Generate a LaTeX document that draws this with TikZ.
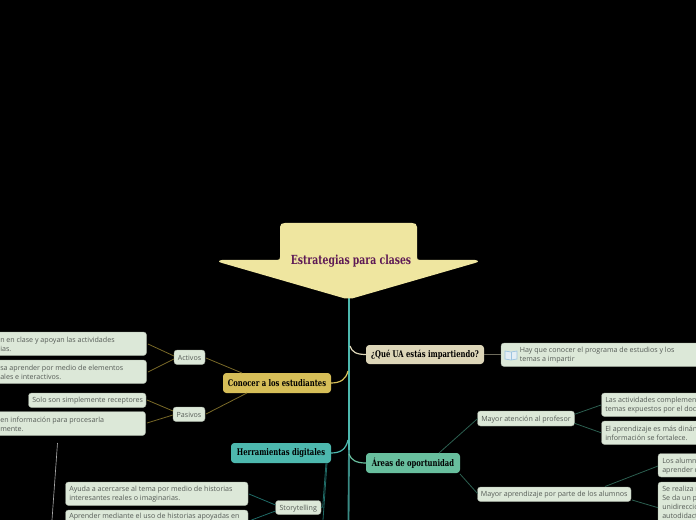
\documentclass[tikz,border=0pt]{standalone}
\usepackage{fontspec}
\setmainfont{Open Sans}
\newfontfamily\titlefont{DejaVu Serif}[FakeStretch=0.74]
\definecolor{paper}{HTML}{DCE8D8}
\definecolor{ink}{HTML}{555B56}
\definecolor{topfill}{HTML}{EFE6A0}
\definecolor{topink}{HTML}{5E1A55}
\definecolor{gold}{HTML}{D6BE58}
\definecolor{teal}{HTML}{4DB8AE}
\definecolor{sand}{HTML}{DDD6B8}
\definecolor{jade}{HTML}{68BF9E}
\definecolor{goldline}{HTML}{7A6A28}
\definecolor{tealline}{HTML}{1F6A66}
\definecolor{jadeline}{HTML}{2C5F50}
\definecolor{bookblue}{HTML}{9CC4E0}
\definecolor{bookpage}{HTML}{E4EEF4}
\tikzset{
 x=0.75pt,y=-0.75pt,
 main/.style={inner sep=0pt,anchor=center,font=\titlefont\bfseries\fontsize{6.9}{9}\selectfont,text=black,align=center},
 leaf/.style={fill=paper,draw=paper!70!black,line width=0.25pt,rounded corners=2.2pt,inner sep=0pt},
 leaftext/.style={anchor=west,inner sep=0pt,yshift=-0.5pt,text=ink,font=\fontsize{5.33}{6.8}\selectfont,align=left},
 goldlink/.style={draw=goldline,line width=0.6pt},
 teallink/.style={draw=tealline,line width=0.6pt},
 jadelink/.style={draw=jadeline,line width=0.6pt},
 branch/.style={line width=0.9pt},
}
\newcommand{\boxat}[6]{% name, x1,y1,x2,y2, style
 \path[#6] (#2,#3) rectangle (#4,#5);
 \coordinate (#1) at ({(#2+#4)/2},{(#3+#5)/2});
 \coordinate (#1-w) at (#2,{(#3+#5)/2});
 \coordinate (#1-e) at (#4,{(#3+#5)/2});
}
\begin{document}
\begin{tikzpicture}
\useasboundingbox (0,0) rectangle (696,520);
\clip (0,0) rectangle (696,520);
\fill[black] (0,0) rectangle (696,520);

% trunk
\coordinate (apex) at (349,298);
\coordinate (mid) at (349,450);
\coordinate (bottom) at (348.5,520);
\draw[teal,line width=2.2pt] (apex) -- (mid);
\draw[teal!75!black,line width=1.4pt] (mid) -- (bottom);

% central shape
\fill[topfill] (277,260) .. controls (279.5,260) and (280,259) .. (280,257) -- (280,227)
 .. controls (280,224) and (282,223) .. (285,223) -- (412,223)
 .. controls (415,223) and (417,224) .. (417,227) -- (417,257)
 .. controls (417,259) and (417.5,260) .. (420,260) -- (475,260)
 .. controls (479,260.5) and (479,262) .. (475,263) -- (352,298.5)
 .. controls (349,299.3) and (348,299.3) .. (345,298.5) -- (222,263)
 .. controls (218,262) and (218,260.5) .. (222,260) -- cycle;
\node[inner sep=0pt,text=topink,font=\titlefont\bfseries\fontsize{9.4}{11}\selectfont] (title) at (351,261.5) {Estrategias para clases};

% branches
\coordinate (t1) at (348,371);
\coordinate (t2) at (348,440);
\coordinate (t3) at (350,346);
\coordinate (t4) at (349,454);
\draw[gold,branch] (t1) .. controls (346,379) and (341,383) .. (331,383);
\draw[teal,branch] (t2) .. controls (346,449) and (341,453) .. (331,453);
\draw[sand,branch] (t3) .. controls (352,352) and (356,354.5) .. (366,354.5);
\draw[jade,branch] (t4) .. controls (351,460) and (356,463) .. (366,463);

% mains
\boxat{con}{223}{373}{331}{393}{fill=gold,rounded corners=2.5pt}
\node[main] (contxt) at (con) {Conocer a los estudiantes};
\boxat{her}{231}{443}{331}{463}{fill=teal,rounded corners=2.5pt}
\node[main] (hertxt) at (her) {Herramientas digitales};
\boxat{que}{366}{345}{484}{364}{fill=sand,rounded corners=2.5pt}
\node[main] (quetxt) at (que) {¿Qué UA estás impartiendo?};
\boxat{are}{366}{453}{460}{473}{fill=jade,rounded corners=2.5pt}
\node[main] (aretxt) at (are) {Áreas de oportunidad};

% small nodes
\boxat{act}{174}{350}{205}{364.5}{leaf}
\node[leaftext,anchor=center] at (act) {Activos};
\boxat{pas}{173}{407}{205}{421.5}{leaf}
\node[leaftext,anchor=center] at (pas) {Pasivos};
\boxat{sto}{275.5}{500.5}{321}{514.5}{leaf}
\node[leaftext,anchor=center] at (sto) {Storytelling};
\boxat{mat}{477.5}{411}{574.5}{426}{leaf}
\node[leaftext,anchor=center] at (mat) {Mayor atención al profesor};
\boxat{map}{477.5}{487}{631}{501.5}{leaf}
\node[leaftext,anchor=center] at (map) {Mayor aprendizaje por parte de los alumnos};

% leaves
\boxat{a1}{-20}{332}{146.5}{355.5}{leaf}
\node[leaftext] at (0,343.8) {n en clase y apoyan las actividades\\ias.};
\boxat{a2}{-20}{360}{146.5}{383.5}{leaf}
\node[leaftext] at (0,371.8) {sa aprender por medio de elementos\\ales e interactivos.};
\boxat{p1}{28.5}{393}{146}{407.5}{leaf}
\node[leaftext] at (32,400.3) {Solo son simplemente receptores};
\boxat{p2}{-20}{411.5}{145.5}{435.5}{leaf}
\node[leaftext] at (0,423.5) {en información para procesarla\\mente.};
\boxat{s1}{65.5}{482}{248}{505.5}{leaf}
\node[leaftext] at (69,493.8) {Ayuda a acercarse al tema por medio de historias\\interesantes reales o imaginarias.};
\boxat{s2}{65.5}{510}{248}{534}{leaf}
\node[leaftext,anchor=north west] at (69,512.5) {Aprender mediante el uso de historias apoyadas en};
\boxat{q1}{501}{343}{720}{366.5}{leaf}
\node[leaftext] at (519.5,354.8) {Hay que conocer el programa de estudios y los\\temas a impartir};
\fill[bookpage,draw=bookblue,line width=0.5pt] (505,351) -- (511,352) -- (517,351) -- (517,359) -- (511,360) -- (505,359) -- cycle;
\draw[bookblue,line width=0.4pt] (511,352) -- (511,360);
\boxat{m1}{601.5}{393}{720}{416.5}{leaf}
\node[leaftext] at (605,404.8) {Las actividades complemen\\temas expuestos por el doc};
\boxat{m2}{601.5}{421}{720}{444.5}{leaf}
\node[leaftext] at (605,432.8) {El aprendizaje es más dinán\\información se fortalece.};
\boxat{n1}{658}{453.5}{720}{477}{leaf}
\node[leaftext] at (662,465.3) {Los alumn\\aprender r};
\boxat{n2}{658}{482}{720}{532}{leaf}
\node[leaftext,anchor=north west] at (662,485) {Se realiza r\\Se da un p\\unidirecció\\autodidact};

% connectors
\coordinate (cona) at (242,373);
\coordinate (conb) at (247,393);
\coordinate (acte) at (206,358);
\coordinate (pase) at (206,414);
\coordinate (actu) at (174,356);
\coordinate (actd) at (174,359);
\coordinate (pasu) at (173,411);
\coordinate (pasd) at (173,415);
\coordinate (a1e) at (148,344);
\coordinate (a2e) at (148,372);
\coordinate (p1e) at (147,400);
\coordinate (p2e) at (147,423);
\draw[goldlink] (cona) -- (acte);
\draw[goldlink] (conb) -- (pase);
\draw[goldlink] (actu) -- (a1e);
\draw[goldlink] (actd) -- (a2e);
\draw[goldlink] (pasu) -- (p1e);
\draw[goldlink] (pasd) -- (p2e);
\draw[draw=sand!50!black,line width=0.7pt] (q1-w -| que-e) -- (q1-w);
\coordinate (area) at (439,453);
\coordinate (areb) at (460,474);
\coordinate (matw) at (477.5,418.7);
\coordinate (mapw) at (477.5,493.5);
\draw[jadelink] (area) -- (matw);
\draw[jadelink] (areb) -- (mapw);
\coordinate (mate) at (574.5,414.3);
\coordinate (matf) at (574.5,423.3);
\coordinate (m1w) at (601,405);
\coordinate (m2w) at (601,432.7);
\draw[jadelink] (mate) -- (m1w);
\draw[jadelink] (matf) -- (m2w);
\coordinate (mapa) at (605,486.5);
\coordinate (mapb) at (632,500);
\coordinate (n1w) at (658,466);
\coordinate (n2w) at (658,507.7);
\draw[jadelink] (mapa) -- (n1w);
\draw[jadelink] (mapb) -- (n2w);
\coordinate (stou) at (275.5,505);
\coordinate (stod) at (275.5,511);
\coordinate (s1e) at (249,494);
\coordinate (s2e) at (251.5,520);
\draw[teallink] (stou) -- (s1e);
\draw[teallink] (stod) -- (s2e);
\coordinate (hera) at (326,463);
\coordinate (herd) at (327,463);
\coordinate (hers) at (322.7,507);
\coordinate (herc) at (323,520);
\draw[teallink] (hera) -- (hers) -- (sto-e);
\draw[teallink] (herd) -- (herc);
\coordinate (greya) at (57.5,443);
\coordinate (greyb) at (52,520);
\draw[draw=gray!70,line width=0.5pt] (greya) -- (greyb);
\end{tikzpicture}
\end{document}
